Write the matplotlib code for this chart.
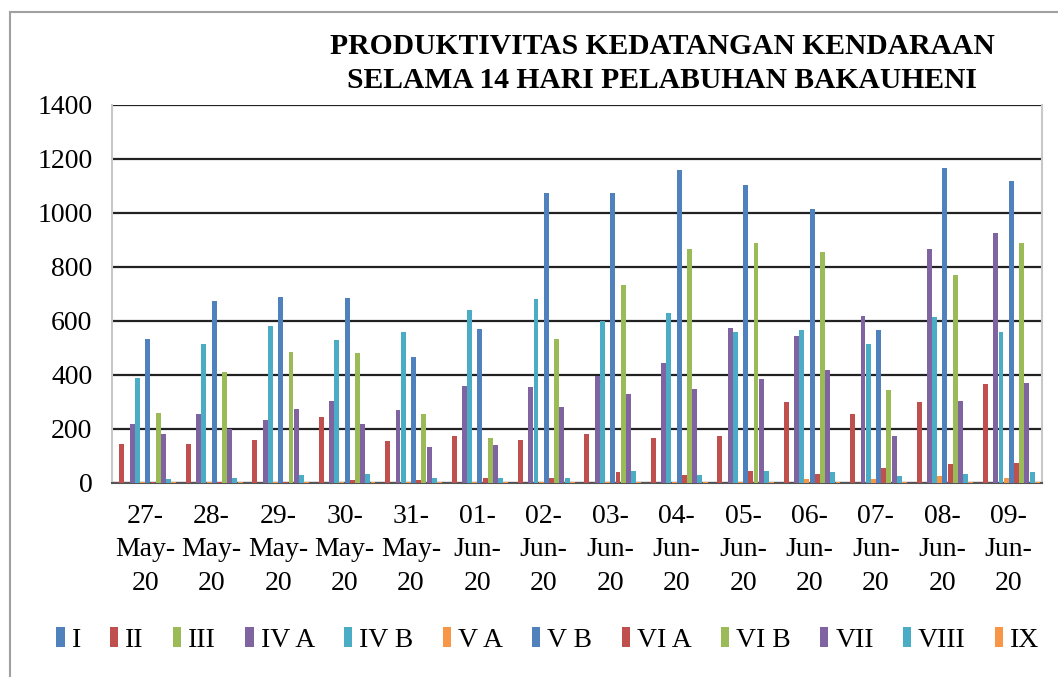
import numpy as np
import matplotlib
matplotlib.use("Agg")
import matplotlib.pyplot as plt
from matplotlib.lines import Line2D

plt.rcParams['font.family'] = ['Liberation Serif', 'DejaVu Serif']

dates = ["27-\nMay-\n20", "28-\nMay-\n20", "29-\nMay-\n20", "30-\nMay-\n20",
         "31-\nMay-\n20", "01-\nJun-\n20", "02-\nJun-\n20", "03-\nJun-\n20",
         "04-\nJun-\n20", "05-\nJun-\n20", "06-\nJun-\n20", "07-\nJun-\n20",
         "08-\nJun-\n20", "09-\nJun-\n20"]

series_names = ["I", "II", "III", "IV A", "IV B", "V A",
                "V B", "VI A", "VI B", "VII", "VIII", "IX"]

gol_1 = [0] * 14
gol_2 = [145, 145, 160, 245, 155, 175, 160, 180, 165, 175, 300, 255, 300, 365]
gol_3 = [0] * 14
gol_4a = [220, 255, 235, 305, 270, 360, 355, 395, 445, 575, 545, 620, 865, 925]
gol_4b = [390, 515, 580, 530, 560, 640, 680, 600, 630, 560, 565, 515, 615, 560]
gol_5a = [2, 3, 3, 3, 3, 3, 3, 5, 5, 5, 15, 15, 25, 20]
gol_5b = [535, 675, 690, 685, 465, 570, 1075, 1075, 1160, 1105, 1015, 565, 1165, 1120]
gol_6a = [5, 5, 5, 10, 10, 20, 20, 40, 30, 45, 35, 55, 70, 75]
gol_6b = [260, 410, 485, 480, 255, 165, 535, 735, 865, 890, 855, 345, 770, 890]
gol_7 = [180, 200, 275, 220, 135, 140, 280, 330, 350, 385, 420, 175, 305, 370]
gol_8 = [15, 20, 30, 35, 20, 20, 20, 45, 30, 45, 40, 25, 35, 40]
gol_9 = [2, 3, 3, 3, 3, 3, 3, 3, 3, 3, 3, 3, 3, 3]

values = [gol_1, gol_2, gol_3, gol_4a, gol_4b, gol_5a,
          gol_5b, gol_6a, gol_6b, gol_7, gol_8, gol_9]

colors = ["#4F81BD", "#C0504D", "#9BBB59", "#8064A2", "#4BACC6", "#F79646"] * 2

fig = plt.figure(figsize=(10.58, 6.77), dpi=100)
ax = fig.add_axes([112 / 1058, 1 - 483 / 677, 930 / 1058, 378 / 677])

x = np.arange(len(dates))
step = 0.078
for i, (name, vals) in enumerate(zip(series_names, values)):
    ax.bar(x + (i - 5.5) * step, vals, width=step * 0.95, color=colors[i],
           label=name, zorder=3)

ax.set_xlim(-0.5, len(dates) - 0.5)
ax.set_ylim(0, 1400)
ax.set_yticks(range(0, 1401, 200))
ax.yaxis.grid(True, color="#222222", linewidth=1.6, zorder=1)
ax.set_axisbelow(True)
ax.set_xticks(x)
ax.set_xticklabels(dates, fontsize=20, linespacing=1.45)
ax.tick_params(axis="x", length=0, pad=15)
ax.tick_params(axis="y", length=0, pad=14, labelsize=20)

for s in ["left", "right"]:
    ax.spines[s].set_color("#c8c8c8")
    ax.spines[s].set_linewidth(1.5)
ax.spines["top"].set_visible(False)
ax.spines["bottom"].set_color("#555555")
ax.spines["bottom"].set_linewidth(1.5)

fig.text(0.626, 1 - 47 / 677, "PRODUKTIVITAS KEDATANGAN KENDARAAN",
         ha="center", va="center", fontsize=21.3, fontweight="bold")
fig.text(0.626, 1 - 81 / 677, "SELAMA 14 HARI PELABUHAN BAKAUHENI",
         ha="center", va="center", fontsize=21.3, fontweight="bold")

fig.legend(loc="center", bbox_to_anchor=(0.518, 1 - 640 / 677), ncol=12,
           frameon=False, fontsize=20, handlelength=0.3, handleheight=0.75,
           handletextpad=0.25, columnspacing=1.05, borderaxespad=0)

# outer chart frame (right and bottom edges fall outside the picture)
fig.add_artist(Line2D([10 / 1058, 10 / 1058], [0, 1 - 12 / 677],
                      color="#a0a0a0", linewidth=1.5))
fig.add_artist(Line2D([10 / 1058, 1], [1 - 12 / 677, 1 - 12 / 677],
                      color="#a0a0a0", linewidth=1.5))

fig.savefig("out.png", dpi=100)
